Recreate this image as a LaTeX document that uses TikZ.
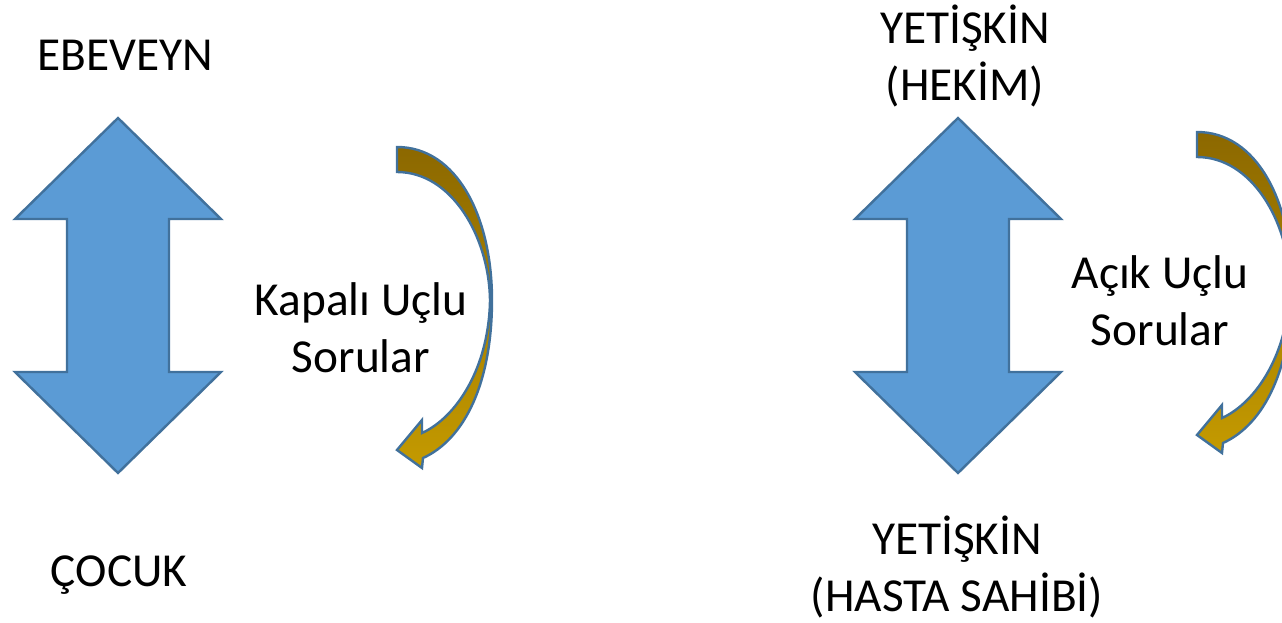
\documentclass[tikz,border=0pt]{standalone}
\usepackage{fontspec}
\setmainfont{Carlito}
\usepackage{xcolor}
\definecolor{arrowblue}{HTML}{5B9BD5}
\definecolor{arrowedge}{HTML}{41719C}
\definecolor{goldtop}{HTML}{8C6800}
\definecolor{goldbot}{HTML}{C49A00}

\begin{document}
\begin{tikzpicture}[
  x=0.75pt, y=-0.75pt,
  font=\fontsize{35.5}{42.75}\selectfont,
  dbl/.style={draw=arrowedge, fill=arrowblue, line width=1.8pt, line join=miter},
  curv/.style={draw=arrowedge, line width=1.8pt, top color=goldtop, bottom color=goldbot},
  lbl/.style={anchor=base, align=center, inner sep=0pt},
]
\clip (0,0) rectangle (1282,622);

% up-down arrows
\foreach \cx in {118,958}
  \draw[dbl, shift={(\cx,295.5)}] (0,-177.5) -- (103,-76.5) -- (51,-76.5) -- (51,76.5)
    -- (103,76.5) -- (0,177.5) -- (-103,76.5) -- (-51,76.5) -- (-51,-76.5) -- (-103,-76.5) -- cycle;

% curved arrows
\foreach \ox/\oy in {397/147,1197/132}
  \draw[curv, shift={(\ox,\oy)}] (0,0) .. controls (60,0) and (95,70) .. (95,153)
    .. controls (95,235) and (68,292) .. (26,311) -- (25,321) -- (0,303) -- (25,273) -- (25,286)
    .. controls (60,270) and (92,220) .. (93,153) .. controls (92,90) and (55,25) .. (0,25) -- cycle;

% labels (base = last line)
\node[lbl] (ebeveyn) at (125,70) {EBEVEYN};
\node[lbl] (cocuk) at (119,586) {ÇOCUK};
\node[lbl] (kapali) at (361,372) {Kapalı Uçlu\\Sorular};
\node[lbl] (hekim) at (965,100) {YETİŞKİN\\(HEKİM)};
\node[lbl] (acik) at (1160,345) {Açık Uçlu\\Sorular};
\node[lbl] (hasta) at (957,611) {YETİŞKİN\\(HASTA SAHİBİ)};
\end{tikzpicture}
\end{document}
